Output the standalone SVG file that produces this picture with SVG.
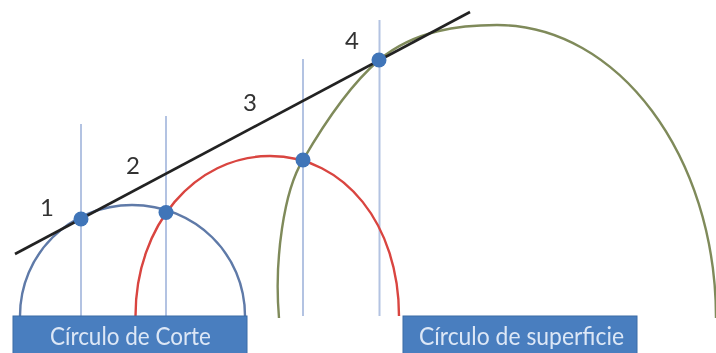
<svg xmlns="http://www.w3.org/2000/svg" width="716" height="353" viewBox="0 0 716 353">
<style>
.v{stroke:#b3c3e2;stroke-width:2;fill:none}
.a{fill:none;stroke-width:2.400}
.d{fill:#3f74b8}
.b{fill:#4a7ebf;stroke:#3a6aa6;stroke-width:1}
.l{font-family:Lato,"Liberation Sans",sans-serif;font-size:25px;fill:#dce7f6;text-anchor:middle}
.n{font-family:Lato,"Liberation Sans",sans-serif;font-size:24px;fill:#333;text-anchor:middle}
</style>
<defs><filter id="soft" x="-5%" y="-5%" width="110%" height="110%"><feGaussianBlur stdDeviation="0.500"/></filter></defs>
<rect width="716" height="353" fill="#fff"/>
<g filter="url(#soft)">
<g id="connectors">
<path class="v" d="M81 124V316M166 116V316M303 59V316M379.500 20V316"/>
<path class="a" stroke="#5f7aa8" d="M20 316C20 254 70 205 132 205C195 205 245 254 245 316"/>
<path class="a" stroke="#d9443f" d="M135.500 316C135.500 225 195 156 270 156C345 156 399 225 399 316"/>
<path class="a" stroke="#7f8a5a" d="M279 318C274 260 284 190 303 160C325 122 350 85 379 60C415 30 460 25 497 25C618 25 716 156 716 318"/>
<path stroke="#222" stroke-width="2.600" fill="none" d="M15 254L470 12"/>
</g>
<g id="point-1"><circle class="d" cx="81" cy="219" r="7.500"/><text class="n" x="47" y="216">1</text></g>
<g id="point-2"><circle class="d" cx="166" cy="212.500" r="7.500"/><text class="n" x="133" y="174">2</text></g>
<g id="point-3"><circle class="d" cx="303" cy="160" r="7.500"/><text class="n" x="250" y="111">3</text></g>
<g id="point-4"><circle class="d" cx="379" cy="60" r="7.500"/><text class="n" x="352" y="49">4</text></g>
<g id="circulo-corte"><rect class="b" x="13" y="316" width="234" height="38"/><text class="l" x="130.500" y="345" textLength="161" lengthAdjust="spacingAndGlyphs">Círculo de Corte</text></g>
<g id="circulo-superficie"><rect class="b" x="403" y="316" width="234" height="38"/><text class="l" x="521.500" y="345" textLength="205" lengthAdjust="spacingAndGlyphs">Círculo de superficie</text></g>
</g>
</svg>
